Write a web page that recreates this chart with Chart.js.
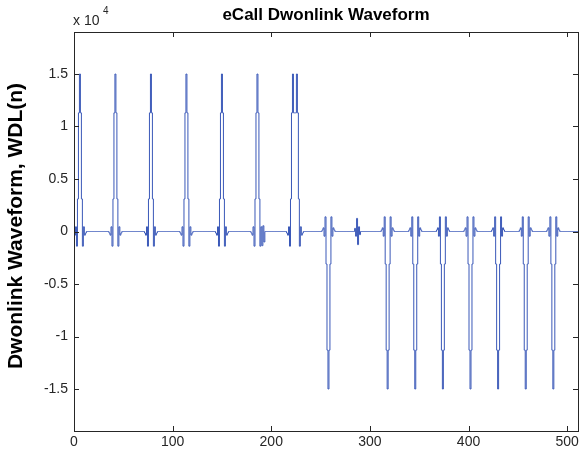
<!DOCTYPE html>
<html><head><meta charset="utf-8">
<script src="https://cdn.jsdelivr.net/npm/chart.js@4.4.1/dist/chart.umd.min.js"></script>
<style>html,body{margin:0;padding:0;background:#fff}#wrap{width:587px;height:452px}</style>
</head><body><div id="wrap"><canvas id="c" width="587" height="452"></canvas></div>
<script>
// ---- data ----
const sampleCount = 512;
const pulseOffsets = [-6, -5, -4, -3, -2, -1, 0, 1, 2, 3, 4, 5, 6];
const pulseShape   = [-150, -350, 450, -1400, 3100, 11300, 15000, 11300, 3100, -1400, 450, -350, -150];
const pulseCenters = [6, 42, 78, 114, 150, 186, 258, 318, 346, 374, 402, 430, 458, 486];
const pulseGains   = [1, 1, 1, 1, 1, 1, -1, -1, -1, -1, -1, -1, -1, -1];
// irregular stretches read sample by sample (double pulse at 222/226, small pulse near 288)
const fixedIdx = [216, 217, 218, 219, 220, 221, 222, 223, 224, 225, 226, 227, 228, 229, 230, 231, 232,
                  285, 286, 287, 288, 289, 290];
const fixedVal = [-150, -350, 450, -1400, 3100, 11300, 15000, 11300, 11300, 11300, 15000, 11300, 3100, -1400, 450, -350, -150,
                  300, -450, 1250, -1250, 450, -300];
const extraIdx = [191, 192, 193];
const extraVal = [-1000, 700, -1000];
const xTicks = [0, 100, 200, 300, 400, 500];
const yTicks = [-15000, -10000, -5000, 0, 5000, 10000, 15000];
const yTickLabels = ['-1.5', '-1', '-0.5', '0', '0.5', '1', '1.5'];
const titleText = 'eCall Dwonlink Waveform';
const yLabelText = 'Dwonlink Waveform, WDL(n)';

// ---- assemble the waveform samples ----
const wdl = new Array(sampleCount).fill(0);
pulseCenters.forEach((c, k) => {
  pulseOffsets.forEach((o, j) => {
    const n = c + o;
    if (n >= 0 && n < sampleCount) wdl[n] += pulseGains[k] * pulseShape[j];
  });
});
extraIdx.forEach((n, k) => { wdl[n] += extraVal[k]; });
fixedIdx.forEach((n, k) => { wdl[n] = fixedVal[k]; });
const points = wdl.map((v, n) => ({x: n, y: v}));

const FONT = '"Liberation Sans", Arial, Helvetica, sans-serif';
Chart.defaults.font.family = FONT;
Chart.defaults.color = '#262626';

const frame = {
  id: 'frame',
  afterDraw(chart) {
    const {ctx, chartArea: a, scales: {x, y}} = chart;
    ctx.save();
    ctx.strokeStyle = '#262626';
    ctx.lineWidth = 1;
    ctx.strokeRect(a.left + 0.5, a.top + 0.5, a.right - a.left, a.bottom - a.top);
    ctx.beginPath();
    xTicks.forEach(v => {
      const px = Math.round(x.getPixelForValue(v)) + 0.5;
      ctx.moveTo(px, a.bottom); ctx.lineTo(px, a.bottom - 5);
      ctx.moveTo(px, a.top); ctx.lineTo(px, a.top + 5);
    });
    yTicks.forEach(v => {
      const py = Math.round(y.getPixelForValue(v)) + 0.5;
      ctx.moveTo(a.left, py); ctx.lineTo(a.left + 5, py);
      ctx.moveTo(a.right, py); ctx.lineTo(a.right - 5, py);
    });
    ctx.stroke();
    ctx.fillStyle = '#000';
    ctx.font = 'bold 17px ' + FONT;
    ctx.textAlign = 'center';
    ctx.textBaseline = 'alphabetic';
    ctx.fillText(titleText, (a.left + a.right) / 2, 20);
    ctx.fillStyle = '#262626';
    ctx.textAlign = 'left';
    ctx.font = '14px ' + FONT;
    ctx.fillText('x 10', a.left - 1, 25);
    ctx.font = '10px ' + FONT;
    ctx.fillText('4', a.left + 29, 14);
    ctx.save();
    ctx.fillStyle = '#000';
    ctx.translate(16, 226);
    ctx.rotate(-Math.PI / 2);
    ctx.font = 'bold 21px ' + FONT;
    ctx.textAlign = 'center';
    ctx.textBaseline = 'middle';
    ctx.fillText(yLabelText, 0, 0);
    ctx.restore();
    ctx.restore();
  }
};

new Chart(document.getElementById('c'), {
  type: 'line',
  data: { datasets: [{
    data: points,
    borderColor: '#3a58b8',
    borderWidth: 1,
    pointRadius: 0,
    stepped: 'middle',
    fill: false
  }]},
  options: {
    responsive: false,
    animation: false,
    devicePixelRatio: 1,
    layout: { padding: { left: 0, right: 9, top: 32, bottom: 0 } },
    plugins: { legend: { display: false }, tooltip: { enabled: false } },
    scales: {
      x: {
        type: 'linear', min: 0, max: 511,
        afterFit: s => { s.height = 21; },
        afterBuildTicks: s => { s.ticks = xTicks.map(v => ({value: v})); },
        grid: { display: false, drawTicks: false },
        border: { display: false },
        ticks: { padding: 3, font: { size: 14 }, maxRotation: 0, autoSkip: false,
                 callback: v => String(v) }
      },
      y: {
        type: 'linear', min: -19000, max: 19000,
        afterFit: s => { s.width = 74; },
        afterBuildTicks: s => { s.ticks = yTicks.map(v => ({value: v})); },
        grid: { display: false, drawTicks: false },
        border: { display: false },
        ticks: { padding: 6, font: { size: 14 }, autoSkip: false,
                 callback: v => yTickLabels[yTicks.indexOf(v)] }
      }
    }
  },
  plugins: [frame]
});
</script>
</body></html>
